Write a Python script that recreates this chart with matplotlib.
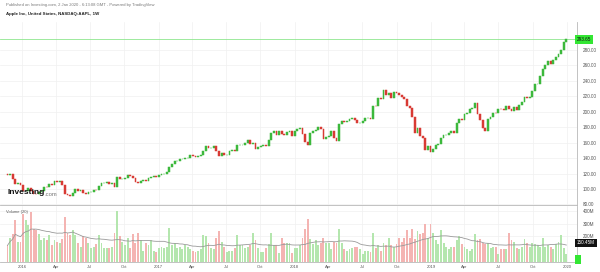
import matplotlib.pyplot as plt
import matplotlib.transforms as mtransforms
import numpy as np
import pandas as pd

plt.rcParams['font.family'] = ['Liberation Sans', 'DejaVu Sans']

# weekly AAPL bars, first bar = week of 23 Nov 2015
first_week = '2015-11-23'
first_open = 119.27
closes = [
    117.81, 119.03, 113.18, 106.03, 108.03, 105.26,
    # 2016
    96.96, 97.13, 101.42, 97.34, 94.02, 93.99, 96.04, 96.91, 103.01, 102.26,
    105.92, 105.67, 109.99, 108.66, 109.85, 105.68, 93.74, 92.72, 90.52, 95.22,
    100.35, 97.92, 98.83, 95.33, 93.40, 95.89, 96.68, 98.78, 98.66, 104.21,
    107.48, 108.18, 109.36, 106.94, 107.73, 103.13, 114.92, 112.71, 113.05, 114.06,
    117.63, 116.60, 113.72, 108.84, 108.43, 110.06, 111.79, 109.90, 113.95, 115.97,
    116.52, 115.82,
    # 2017
    117.91, 119.04, 120.00, 121.95, 129.08, 132.12, 135.72, 136.66, 139.14, 139.14,
    139.99, 140.64, 143.66, 143.34, 141.05, 142.27, 143.65, 148.96, 156.10, 153.06,
    153.61, 155.45, 148.98, 142.27, 146.28, 144.02, 144.18, 149.04, 150.27, 149.50,
    156.39, 157.48, 157.50, 159.86, 164.05, 158.63, 159.88, 151.89, 154.12, 155.30,
    156.99, 156.25, 163.05, 172.50, 174.67, 170.15, 174.97, 171.05, 169.37, 173.97,
    175.01, 169.23,
    # 2018
    175.00, 177.09, 178.46, 171.51, 160.50, 156.41, 172.43, 175.50, 176.21, 179.98,
    178.02, 164.94, 167.78, 168.38, 174.73, 165.72, 162.32, 183.83, 188.59, 186.31,
    188.58, 190.24, 191.70, 188.74, 184.92, 185.11, 187.97, 191.33, 191.44, 190.98,
    207.99, 207.53, 217.58, 216.16, 227.63, 221.30, 223.84, 217.66, 225.74, 224.29,
    222.11, 219.31, 216.30, 207.48, 204.47, 193.53, 172.29, 178.58, 168.49, 165.48,
    150.73, 156.23,
    # 2019
    148.26, 152.29, 156.82, 157.76, 166.52, 170.41, 170.42, 172.97, 174.97, 172.91,
    186.12, 191.05, 189.95, 197.00, 198.87, 203.86, 204.30, 211.75, 197.18, 189.00,
    178.97, 175.07, 190.15, 192.74, 198.78, 197.92, 204.23, 203.30, 202.59, 207.74,
    204.02, 200.99, 206.50, 202.64, 208.74, 213.26, 218.75, 217.73, 218.82, 227.01,
    236.21, 236.41, 246.58, 255.82, 260.14, 265.76, 261.78, 267.25, 270.71, 275.15,
    279.44, 289.80, 293.65,
]
# weekly volume, millions of shares
volumes = [
    130, 190, 220, 330, 160, 160,
    380, 330, 290, 390, 260, 250, 220, 170, 190, 170,
    210, 130, 170, 160, 150, 180, 350, 230, 210, 250,
    210, 150, 120, 200, 190, 150, 110, 120, 140, 210,
    150, 110, 110, 110, 120, 230, 400, 200, 160, 130,
    190, 110, 220, 150, 230, 170, 90, 150, 130, 170,
    90, 80,
    110, 120, 110, 120, 270, 130, 150, 110, 120, 100,
    130, 120, 100, 90, 80, 90, 100, 210, 200, 150,
    110, 100, 190, 240, 160, 120, 80, 90, 90, 110,
    210, 130, 130, 110, 120, 130, 230, 170, 110, 80,
    80, 110, 140, 230, 130, 130, 70, 190, 150, 150,
    150, 70,
    110, 110, 130, 190, 260, 340, 180, 140, 170, 130,
    150, 190, 150, 150, 100, 160, 150, 260, 150, 100,
    90, 100, 110, 120, 120, 100, 60, 90, 90, 80,
    230, 110, 130, 90, 150, 130, 190, 130, 120, 140,
    190, 160, 190, 250, 190, 260, 180, 240, 220, 230,
    300, 190,
    300, 230, 170, 140, 250, 150, 120, 100, 120, 120,
    170, 200, 140, 120, 100, 90, 100, 220, 170, 180,
    150, 140, 150, 110, 120, 120, 60, 100, 100, 100,
    230, 170, 160, 110, 100, 120, 180, 150, 120, 150,
    140, 130, 120, 190, 120, 130, 120, 100, 140, 160,
    210, 110, 60,
]

price_ticks = [80, 100, 120, 140, 160, 180, 200, 220, 240, 260, 280]
vol_ticks = [200, 300, 400]
vol_tick_labels = ['200M', '300M', '400M']
last_price = '293.65'
vol_ma_label = '150.45M'

n = len(closes)
opens = [first_open] + closes[:-1]
x = np.arange(n)
up = np.array(closes) >= np.array(opens)

start = pd.Timestamp(first_week)
tick_pos, tick_lab = [], []
for d in pd.date_range('2016-01-01', '2020-01-01', freq='QS'):
    tick_pos.append((d - start).days / 7)
    tick_lab.append(str(d.year) if d.month == 1 else d.strftime('%b'))

fig = plt.figure(figsize=(6, 2.72), dpi=100)
ax = fig.add_axes([0, 1 - 205 / 272, 577 / 600, 183 / 272])
axv = fig.add_axes([0, 1 - 262 / 272, 577 / 600, 56 / 272], sharex=ax)

green, red = '#3cb83c', '#d83a34'
cols = np.where(up, green, red)
ax.bar(x, np.array(closes) - np.array(opens), bottom=opens, width=0.7,
       color=cols, edgecolor=cols, linewidth=0.35, zorder=3)
ax.axhline(float(last_price), color='#8ee68e', lw=0.6, zorder=2)

ax.set_xlim(-2.86, 218.1)
ax.set_ylim(79.3, 316.3)
ax.yaxis.tick_right()
ax.set_yticks(price_ticks)
ax.set_yticklabels(['%.2f' % t for t in price_ticks])
ax.tick_params(axis='y', length=0, pad=4, labelsize=3.3, labelcolor='#555555')
ax.tick_params(axis='x', length=0, labelbottom=False)
ax.set_xticks(tick_pos)
ax.grid(color='#f0f0f0', lw=0.5, zorder=0)
for s in ['top', 'left']:
    ax.spines[s].set_visible(False)
for s in ['right', 'bottom']:
    ax.spines[s].set_color('#b8b8b8')
    ax.spines[s].set_linewidth(0.6)

tr = mtransforms.blended_transform_factory(ax.transAxes, ax.transData)
ax.text(1.0, float(last_price), last_price, transform=tr, ha='left', va='center',
        fontsize=3.3, color='#111111', zorder=5,
        bbox=dict(boxstyle='square,pad=0.35', fc='#33e633', ec='none'))

vcols = np.where(up, '#b4e6ae', '#f4b4b2')
axv.bar(x, volumes, width=0.72, color=vcols, zorder=3)
vol_ma = pd.Series(volumes).rolling(20, min_periods=1).mean()
axv.plot(x, vol_ma, color='#9a9a9a', lw=0.6, zorder=4)
axv.set_ylim(0, 439)
axv.yaxis.tick_right()
axv.set_yticks(vol_ticks)
axv.set_yticklabels(vol_tick_labels)
axv.tick_params(axis='y', length=0, pad=4, labelsize=3.3, labelcolor='#555555')
axv.set_xticks(tick_pos)
axv.set_xticklabels(tick_lab)
axv.tick_params(axis='x', length=0, pad=2.5, labelsize=3.0, labelcolor='#555555')
axv.grid(color='#f0f0f0', lw=0.5, zorder=0)
for s in ['top', 'left']:
    axv.spines[s].set_visible(False)
for s in ['right', 'bottom']:
    axv.spines[s].set_color('#b8b8b8')
    axv.spines[s].set_linewidth(0.6)

trv = mtransforms.blended_transform_factory(axv.transAxes, axv.transData)
axv.text(1.0, 150.45, vol_ma_label, transform=trv, ha='left', va='center',
         fontsize=3.3, color='white', zorder=5,
         bbox=dict(boxstyle='square,pad=0.35', fc='#111111', ec='none'))
axv.text(1.0, 20, ' ', transform=trv, ha='left', va='center', fontsize=3.3, zorder=5,
         bbox=dict(boxstyle='square,pad=0.5', fc='#33e633', ec='none'))
axv.text(0.01, 0.93, 'Volume (20)', transform=axv.transAxes, ha='left', va='top',
         fontsize=3.0, color='#555555')

fig.text(6 / 600, 1 - 5 / 272, 'Published on Investing.com, 2 Jan 2020 - 6:13:08 GMT - Powered by TradingView',
         fontsize=3.0, color='#777777', va='center')
fig.text(6 / 600, 1 - 14 / 272, 'Apple Inc, United States, NASDAQ:AAPL, 1W',
         fontsize=3.2, weight='bold', color='#222222', va='center')
fig.text(8 / 600, 1 - 193 / 272, 'Investing', fontsize=6.0, weight='bold',
         color='#111111', va='center')
fig.text(44 / 600, 1 - 194 / 272, '.com', fontsize=4.2, color='#777777', va='center')

fig.savefig('out.png', dpi=100)
